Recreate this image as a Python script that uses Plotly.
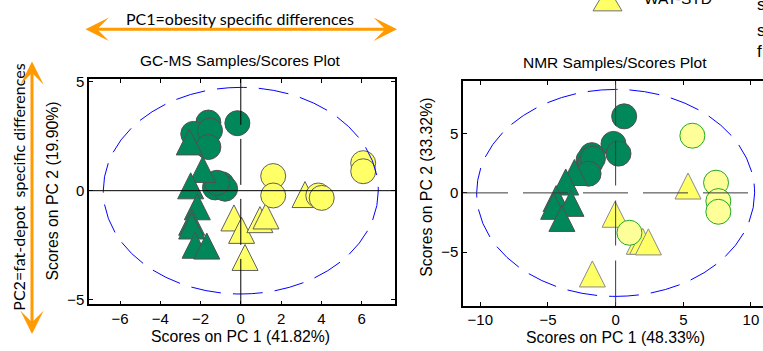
import plotly.graph_objects as go

W, H = 763, 351

# ---------------- data ----------------
# GC-MS scores (PC1, PC2)
gc_green_circ_x = [-1.61, -2.36, -1.53, -1.61, -0.17, -0.95, -1.28, -0.78, -1.18]
gc_green_circ_y = [3.12, 2.60, 2.75, 2.00, 3.09, 0.30, 0.15, 0.09, 0.36]
gc_green_tri_x = [-2.56, -1.89, -2.49, -2.16, -2.44, -2.44, -2.27, -1.69]
gc_green_tri_y = [2.25, 0.99, 0.24, -0.72, -1.43, -1.60, -2.48, -2.52]
gc_yel_circ_x = [1.61, 1.61, 3.85, 4.02, 6.08, 6.08]
gc_yel_circ_y = [0.67, -0.22, -0.22, -0.33, 1.26, 0.89]
gc_yel_tri_x = [-0.34, 0.04, 0.21, 0.95, 1.25, 3.19]
gc_yel_tri_y = [-1.23, -1.80, -3.04, -1.31, -1.14, -0.16]

# NMR scores (PC1, PC2)
nmr_green_circ_x = [0.63, -0.16, 0.21, -1.76, -2.00, -1.88, -1.68, -2.00]
nmr_green_circ_y = [6.45, 4.13, 3.31, 3.18, 2.77, 2.49, 2.90, 1.62]
nmr_green_tri_x = [-3.05, -3.69, -4.40, -3.30, -4.58, -3.97]
nmr_green_tri_y = [1.75, 0.95, -0.45, -0.85, -1.10, -2.12]
nmr_yel_circ_x = [5.67, 7.42, 7.59, 7.59, 1.02]
nmr_yel_circ_y = [4.82, 0.86, -0.69, -1.59, -3.36]
nmr_yel_tri_x = [5.35, -0.04, -1.72, 1.75, 2.00, 2.42]
nmr_yel_tri_y = [0.61, -1.77, -6.80, -4.05, -4.05, -4.10]

# confidence ellipse semi-axes
gc_ellipse = (6.83, 4.73)
nmr_ellipse = (10.27, 8.72)

gc_xticks = [-6, -4, -2, 0, 2, 4, 6]
gc_yticks = [-5, 0, 5]
nmr_xticks = [-10, -5, 0, 5, 10]
nmr_yticks = [-5, 0, 5]

# ---------------- layout geometry ----------------
def px_x(p):
    return p / W

def px_y(p):
    return 1 - p / H

gc_dom_x = [px_x(89), px_x(395)]
gc_dom_y = [px_y(307), px_y(75)]
gc_rx = [-7.54, 7.66]
gc_ry = [-5.20, 5.12]

nmr_dom_x = [px_x(463), 1.0]
nmr_dom_y = [px_y(308.3), px_y(77.3)]
nmr_rx = [-11.28, 10.89]
nmr_ry = [-9.49, 9.42]

GREEN = "#00885A"
GREEN_EDGE = "#505050"
YELLOW = "#FFFF66"
PALE = "#FFFF99"
CIRC = 25
TRI = 26

def tri_offset(dom_y, ry):
    ppu = (dom_y[1] - dom_y[0]) * H / (ry[1] - ry[0])
    return (TRI / 2.0) / ppu

gc_off = tri_offset(gc_dom_y, gc_ry)
nmr_off = tri_offset(nmr_dom_y, nmr_ry)

fig = go.Figure()

def add(x, y, sym, color, edge, xa, ya, off=0.0, size=CIRC, ew=1):
    fig.add_trace(go.Scatter(
        x=x, y=[v + off for v in y], mode="markers", xaxis=xa, yaxis=ya,
        showlegend=False, hoverinfo="skip",
        marker=dict(symbol=sym, size=size, color=color,
                    line=dict(color=edge, width=ew))))

# GC-MS
add(gc_green_circ_x, gc_green_circ_y, "circle", GREEN, GREEN_EDGE, "x", "y")
add(gc_green_tri_x, gc_green_tri_y, "arrow-up", GREEN, GREEN_EDGE, "x", "y", gc_off, TRI)
add(gc_yel_tri_x, gc_yel_tri_y, "arrow-up", YELLOW, "#606060", "x", "y", gc_off, TRI)
add(gc_yel_circ_x, gc_yel_circ_y, "circle", YELLOW, "#606060", "x", "y")
# NMR
add(nmr_green_circ_x, nmr_green_circ_y, "circle", GREEN, GREEN_EDGE, "x2", "y2")
add(nmr_green_tri_x, nmr_green_tri_y, "arrow-up", GREEN, GREEN_EDGE, "x2", "y2", nmr_off, TRI)
add(nmr_yel_tri_x, nmr_yel_tri_y, "arrow-up", YELLOW, "#8a8a8a", "x2", "y2", nmr_off, TRI)
add(nmr_yel_circ_x, nmr_yel_circ_y, "circle", PALE, "#22AA22", "x2", "y2")

AX_FONT = dict(family="Liberation Sans, Arial, sans-serif", size=15, color="black")

def axis(dom, rng, ticks, mirror, anchor):
    return dict(domain=dom, range=rng, tickvals=ticks, ticks="inside", ticklen=4,
                tickcolor="black", showline=True, linecolor="black", linewidth=1.5,
                mirror=mirror, showgrid=False, zeroline=False, tickfont=AX_FONT,
                anchor=anchor, fixedrange=True)

shapes = []
# ellipses
for xr, yr, (a, b) in [("x", "y", gc_ellipse), ("x2", "y2", nmr_ellipse)]:
    shapes.append(dict(type="circle", xref=xr, yref=yr, x0=-a, x1=a, y0=-b, y1=b,
                       line=dict(color="#0000FF", width=1, dash="30px,12px"), layer="above"))
# zero lines
shapes.append(dict(type="line", xref="x domain", yref="y", x0=0, x1=1, y0=0, y1=0,
                   line=dict(color="black", width=1), layer="above"))
shapes.append(dict(type="line", xref="x", yref="y domain", x0=0, x1=0, y0=1, y1=0,
                   line=dict(color="black", width=1, dash="46px,14px"), layer="above"))
shapes.append(dict(type="line", xref="x2 domain", yref="y2", x0=0, x1=1, y0=0, y1=0,
                   line=dict(color="#3a3a3a", width=1, dash="45px,15px"), layer="above"))
shapes.append(dict(type="line", xref="x2", yref="y2 domain", x0=0, x1=0, y0=0, y1=1,
                   line=dict(color="#3a3a3a", width=1, dash="45px,15px"), layer="above"))
# legend glyph (cut off at the top)
shapes.append(dict(type="path", xref="paper", yref="paper",
                   path=f"M {px_x(593)},{px_y(5)} L {px_x(622)},{px_y(5)} L {px_x(607.5)},{px_y(-20)} Z",
                   fillcolor=YELLOW, line=dict(color="#707070", width=1)))

ORANGE = "#FF9A00"
TXT = dict(family="Liberation Sans, Arial, sans-serif", size=15.5, color="black")
LBL = dict(family="Liberation Sans, Arial, sans-serif", size=15.8, color="black")
NOTE = dict(family="Lato, Carlito, sans-serif", size=16, color="black")
EDGE = dict(family="Liberation Sans, Arial, sans-serif", size=17, color="black")

ann = []
def text(t, x, y, font, angle=0, xanchor="center", yanchor="middle"):
    ann.append(dict(text=t, x=px_x(x), y=px_y(y), xref="paper", yref="paper",
                    showarrow=False, font=font, textangle=angle,
                    xanchor=xanchor, yanchor=yanchor))

text("GC-MS Samples/Scores Plot", 240, 56, TXT)
text("NMR Samples/Scores Plot", 615, 58, TXT)
text("Scores on PC 1 (41.82%)", 241, 340, LBL)
text("Scores on PC 2 (19.90%)", 53, 191, LBL, angle=-90)
text("Scores on PC 1 (48.33%)", 615, 341, LBL)
text("Scores on PC 2 (33.32%)", 427, 187, LBL, angle=-90)
text("PC1=obesity specific differences", 240, 13, NOTE)
text("PC2=fat-depot  specific differences", 19, 187, NOTE, angle=-90)
text("WAT-STD", 642, -8, TXT, xanchor="left")
text("s", 755, -2, EDGE, xanchor="left")
text("s", 755, 25, EDGE, xanchor="left")
text("f", 755, 47, EDGE, xanchor="left")

# orange double arrows (head position in paper units, tail as pixel offset)
ann.append(dict(x=px_x(397), y=px_y(24), ax=84 - 397, ay=0, xref="paper", yref="paper",
                axref="pixel", ayref="pixel", text="", showarrow=True, arrowhead=3,
                arrowside="end+start", arrowsize=1.3, arrowwidth=3, arrowcolor=ORANGE))
ann.append(dict(x=px_x(32), y=px_y(57), ax=0, ay=331 - 57, xref="paper", yref="paper",
                axref="pixel", ayref="pixel", text="", showarrow=True, arrowhead=3,
                arrowside="end+start", arrowsize=1.3, arrowwidth=3, arrowcolor=ORANGE))

fig.update_layout(
    width=W, height=H, margin=dict(l=0, r=0, t=0, b=0),
    paper_bgcolor="white", plot_bgcolor="white",
    xaxis=axis(gc_dom_x, gc_rx, gc_xticks, "ticks", "y"),
    yaxis=axis(gc_dom_y, gc_ry, gc_yticks, "ticks", "x"),
    xaxis2=axis(nmr_dom_x, nmr_rx, nmr_xticks, "ticks", "y2"),
    yaxis2=axis(nmr_dom_y, nmr_ry, nmr_yticks, False, "x2"),
    shapes=shapes, annotations=ann,
)

fig.write_html("out.html", config={"displayModeBar": False},
               post_script="document.body.style.margin='0';document.body.style.overflow='hidden';")
